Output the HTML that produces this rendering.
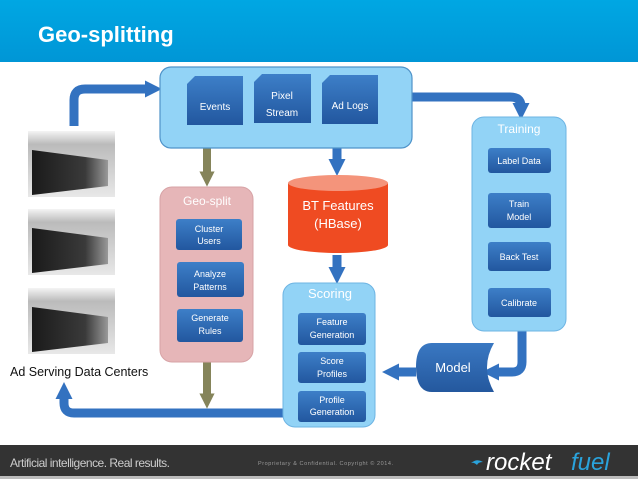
<!DOCTYPE html>
<html><head><meta charset="utf-8"><style>
body{margin:0;width:638px;height:479px;overflow:hidden;background:#fff;font-family:"Liberation Sans",sans-serif}
</style></head><body>
<svg width="638" height="479" viewBox="0 0 638 479" xmlns="http://www.w3.org/2000/svg" font-family="Liberation Sans, sans-serif">
<defs>
<linearGradient id="hd" x1="0" y1="0" x2="0" y2="1"><stop offset="0" stop-color="#00a7e3"/><stop offset="1" stop-color="#0096d6"/></linearGradient>
<linearGradient id="btn" x1="0" y1="0" x2="0" y2="1"><stop offset="0" stop-color="#3d7fc8"/><stop offset="1" stop-color="#22579f"/></linearGradient>
<linearGradient id="bg" x1="0" y1="0" x2="0" y2="1"><stop offset="0" stop-color="#f4f4f4"/><stop offset="0.2" stop-color="#bbb"/><stop offset="1" stop-color="#e8e8e8"/></linearGradient>
<linearGradient id="srv" x1="0" y1="0" x2="1" y2="0"><stop offset="0" stop-color="#1a1a1a"/><stop offset="0.7" stop-color="#3a3a3a"/><stop offset="1" stop-color="#999"/></linearGradient>
<linearGradient id="mdl" x1="0" y1="0" x2="0" y2="1"><stop offset="0" stop-color="#3a78c2"/><stop offset="1" stop-color="#24589e"/></linearGradient>
<marker id="ab" viewBox="0 0 10 10" refX="3" refY="5" markerWidth="1.9" markerHeight="1.9" orient="auto"><path d="M0,0L10,5L0,10z" fill="#3372c0"/></marker>
<marker id="ao" viewBox="0 0 10 10" refX="3" refY="5" markerWidth="1.9" markerHeight="1.9" orient="auto"><path d="M0,0L10,5L0,10z" fill="#85845a"/></marker>
</defs>
<rect x="0" y="0" width="638" height="62" fill="url(#hd)"/>
<text x="38" y="42" font-size="22" font-weight="bold" fill="#fff">Geo-splitting</text>

<!-- servers -->
<g>
<rect x="28" y="131" width="87" height="66" fill="url(#bg)"/><path d="M32 150 L108 160 V186 L32 195z" fill="url(#srv)"/>
<rect x="28" y="209" width="87" height="66" fill="url(#bg)"/><path d="M32 228 L108 238 V264 L32 273z" fill="url(#srv)"/>
<rect x="28" y="288" width="87" height="66" fill="url(#bg)"/><path d="M32 307 L108 317 V343 L32 352z" fill="url(#srv)"/>
</g>
<text x="10" y="376" font-size="12.5" fill="#111">Ad Serving Data Centers</text>

<!-- arrows -->
<g fill="none" stroke="#3372c0" stroke-width="9">
<path d="M74 126 V100 Q74 89 85 89 H150" marker-end="url(#ab)"/>
<path d="M412 97 H510 Q521 97 521 106 V108" marker-end="url(#ab)"/>
<path d="M337 148 V164" marker-end="url(#ab)"/>
<path d="M337 255 V272" marker-end="url(#ab)"/>
<path d="M522 331 V362 Q522 372 512 372 H494" marker-end="url(#ab)"/>
<path d="M416 372 H394" marker-end="url(#ab)"/>
<path d="M284 413 H74 Q64 413 64 403 V394" marker-end="url(#ab)"/>
</g>
<g fill="none" stroke="#85845a" stroke-width="8">
<path d="M207 148 V176" marker-end="url(#ao)"/>
<path d="M207 362 V398" marker-end="url(#ao)"/>
</g>

<!-- top box -->
<rect x="160" y="67" width="252" height="81" rx="11" fill="#92d3f6" stroke="#4f93c9" stroke-width="1.2"/>
<g fill="url(#btn)">
<path d="M195 76H243V125H187V84z"/><path d="M262 74H311V123H254V82z"/><path d="M330 75H378V124H322V83z"/>
</g>
<g fill="#fff" font-size="10" text-anchor="middle">
<text x="215" y="110">Events</text>
<text x="282" y="99">Pixel</text><text x="282" y="116">Stream</text>
<text x="350" y="109">Ad Logs</text>
</g>

<!-- geo-split -->
<rect x="160" y="187" width="93" height="175" rx="12" fill="#e6b6b8" stroke="#d7a3a6"/>
<text x="207" y="205" font-size="12" fill="#fff" text-anchor="middle">Geo-split</text>
<g fill="url(#btn)">
<rect x="176" y="219" width="66" height="31" rx="3"/><rect x="177" y="262" width="67" height="35" rx="3"/><rect x="177" y="309" width="66" height="33" rx="3"/>
</g>
<g fill="#fff" font-size="9" text-anchor="middle">
<text x="209" y="232">Cluster</text><text x="209" y="244">Users</text>
<text x="210" y="277">Analyze</text><text x="210" y="290">Patterns</text>
<text x="210" y="321">Generate</text><text x="210" y="334">Rules</text>
</g>

<!-- BT features cylinder -->
<path d="M288 183 V245 A50 8 0 0 0 388 245 V183z" fill="#ef4b22"/>
<ellipse cx="338" cy="183" rx="50" ry="8" fill="#f4947b"/>
<g fill="#fff" font-size="13" text-anchor="middle">
<text x="338" y="210">BT Features</text><text x="338" y="228">(HBase)</text>
</g>

<!-- scoring -->
<rect x="283" y="283" width="92" height="144" rx="12" fill="#92d3f6" stroke="#6db4e3"/>
<text x="330" y="298" font-size="13" fill="#fff" text-anchor="middle">Scoring</text>
<g fill="url(#btn)">
<rect x="298" y="313" width="68" height="32" rx="3"/><rect x="298" y="352" width="68" height="31" rx="3"/><rect x="298" y="391" width="68" height="31" rx="3"/>
</g>
<g fill="#fff" font-size="9" text-anchor="middle">
<text x="332" y="325">Feature</text><text x="332" y="338">Generation</text>
<text x="332" y="364">Score</text><text x="332" y="377">Profiles</text>
<text x="332" y="403">Profile</text><text x="332" y="415">Generation</text>
</g>

<!-- training -->
<rect x="472" y="117" width="94" height="214" rx="12" fill="#92d3f6" stroke="#6db4e3"/>
<text x="519" y="133" font-size="12" fill="#fff" text-anchor="middle">Training</text>
<g fill="url(#btn)">
<rect x="488" y="148" width="63" height="25" rx="3"/><rect x="488" y="193" width="63" height="35" rx="3"/><rect x="488" y="242" width="63" height="29" rx="3"/><rect x="488" y="288" width="63" height="29" rx="3"/>
</g>
<g fill="#fff" font-size="9" text-anchor="middle">
<text x="519" y="164">Label Data</text>
<text x="519" y="207">Train</text><text x="519" y="220">Model</text>
<text x="519" y="260">Back Test</text>
<text x="519" y="306">Calibrate</text>
</g>

<!-- model -->
<path d="M432 343 H494 Q480 367 494 392 H432 Q416 392 416 367 Q416 343 432 343z" fill="url(#mdl)"/>
<text x="453" y="372" font-size="13" fill="#fff" text-anchor="middle">Model</text>

<!-- footer -->
<rect x="0" y="445" width="638" height="31" fill="#333"/>
<rect x="0" y="476" width="638" height="3" fill="#bbb"/>
<text x="10" y="467" font-size="12" fill="#ccc" textLength="160">Artificial intelligence. Real results.</text>
<text x="258" y="465" font-size="5.5" fill="#999" textLength="135">Proprietary &amp; Confidential. Copyright © 2014.</text>
<path d="M471 463 q6 -5 12 -1 q-5 0 -6 3 q-3 -3 -6 -2z" fill="#2aa3dc"/>
<text x="486" y="470" font-size="24" fill="#fff" font-style="italic">rocket</text>
<text x="571" y="470" font-size="24" fill="#2aa3dc" font-style="italic">fuel</text>
</svg>
</body></html>
